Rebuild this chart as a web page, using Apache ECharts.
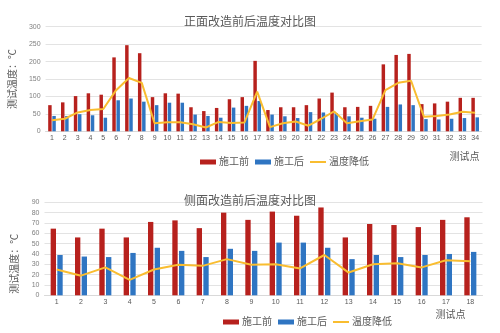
<!DOCTYPE html>
<html>
<head>
<meta charset="utf-8">
<script src="https://cdn.jsdelivr.net/npm/echarts@6/dist/echarts.min.js"></script>
<style>
  html, body { margin: 0; padding: 0; background: #fff; }
  #chart { width: 500px; height: 333px; }
</style>
</head>
<body>
<div id="chart"></div>
<script>
// 正面测试点 (front side)
const frontPoints = ['1','2','3','4','5','6','7','8','9','10','11','12','13','14','15','16','17',
  '18','19','20','21','22','23','24','25','26','27','28','29','30','31','32','33','34'];
const frontBefore = [75, 83, 101, 109, 105, 212, 247, 224, 98, 109, 108, 69, 58, 67, 92, 98, 202,
  61, 69, 69, 75, 94, 111, 69, 70, 73, 192, 219, 222, 78, 80, 85, 96, 96];
const frontAfter = [44, 44, 49, 46, 39, 89, 94, 85, 75, 82, 82, 48, 44, 39, 68, 73, 87,
  48, 43, 38, 55, 54, 52, 43, 39, 36, 70, 77, 75, 35, 34, 36, 38, 40];
const frontDrop = [32, 36, 54, 61, 64, 118, 153, 139, 23, 26, 26, 20, 11, 27, 24, 25, 114,
  12, 23, 28, 16, 36, 57, 23, 29, 34, 118, 139, 145, 42, 44, 48, 56, 53];

// 侧面测试点 (side)
const sidePoints = ['1','2','3','4','5','6','7','8','9','10','11','12','13','14','15','16','17','18'];
const sideBefore = [64.5, 56, 64.5, 56, 71, 72.5, 65, 80, 73, 81, 77, 85, 56, 69, 68, 66, 73, 75.5];
const sideAfter = [39, 37.5, 37, 41, 46, 43, 37, 45, 43, 51, 51, 46, 35, 39, 37, 39, 40, 42];
const sideDrop = [25, 19, 27, 15, 25, 29.5, 28.5, 35, 29.5, 30, 26, 39, 22, 30, 31, 27, 34, 33];

const titles = ['正面改造前后温度对比图', '侧面改造前后温度对比图'];
const seriesNames = ['施工前', '施工后', '温度降低'];
const yName = '测试温度：℃';
const xName = '测试点';

const RED = '#B7211D', BLUE = '#2F75C2', YELLOW = '#F9BD30';
const TEXT = '#595959';
const FONT = '"Liberation Sans", "Noto Sans CJK SC", sans-serif';
// thin bar used as the legend mark of the line series
const LINE_ICON = 'path://M0,0 L16,0 L16,2 L0,2 Z';

const chart = echarts.init(document.getElementById('chart'), null, { renderer: 'canvas' });

function legendFor(top, left) {
  return {
    top: top, left: left,
    itemWidth: 16, itemHeight: 5, itemGap: 6,
    data: [
      { name: seriesNames[0], icon: 'rect' },
      { name: seriesNames[1], icon: 'rect' },
      { name: seriesNames[2], icon: LINE_ICON }
    ],
    textStyle: { color: TEXT, fontSize: 10, fontFamily: FONT, padding: [0, 0, 0, -2] }
  };
}

function xAxisFor(gridIndex, cats, nameGap, namePad) {
  return {
    type: 'category', gridIndex: gridIndex, data: cats,
    axisLine: { show: true, lineStyle: { color: '#d9d9d9', width: 1 } },
    axisTick: { show: false },
    axisLabel: { color: TEXT, fontSize: 7, fontFamily: FONT, margin: 3, interval: 0 },
    name: xName, nameLocation: 'end', nameGap: nameGap,
    nameTextStyle: { color: TEXT, fontSize: 10, fontFamily: FONT, align: 'left',
      verticalAlign: 'top', padding: [namePad, 0, 0, 0] }
  };
}

function yAxisFor(gridIndex, max, interval, namePad) {
  return {
    type: 'value', gridIndex: gridIndex, min: 0, max: max, interval: interval,
    axisLine: { show: false }, axisTick: { show: false },
    splitLine: { lineStyle: { color: '#e3e3e3', width: 1 } },
    axisLabel: { color: '#7f7f7f', fontSize: 7, fontFamily: FONT, margin: 5 },
    name: yName, nameLocation: 'middle', nameGap: 24, nameRotate: 90,
    nameTextStyle: { color: TEXT, fontSize: 10, fontFamily: FONT, padding: namePad }
  };
}

function barSeries(name, data, color, axisIndex, width, gap) {
  return {
    name: name, type: 'bar', xAxisIndex: axisIndex, yAxisIndex: axisIndex,
    data: data, barWidth: width, barGap: gap,
    itemStyle: { color: color }
  };
}

function lineSeries(name, data, axisIndex) {
  return {
    name: name, type: 'line', xAxisIndex: axisIndex, yAxisIndex: axisIndex,
    data: data, symbol: 'none', smooth: false,
    lineStyle: { color: YELLOW, width: 2 }, itemStyle: { color: YELLOW }, z: 5
  };
}

chart.setOption({
  animation: false,
  backgroundColor: '#fff',
  textStyle: { fontFamily: FONT },
  title: [
    { text: titles[0], left: 'center', top: 12,
      textStyle: { color: TEXT, fontSize: 12, fontWeight: 'normal', fontFamily: FONT } },
    { text: titles[1], left: 'center', top: 191,
      textStyle: { color: TEXT, fontSize: 12, fontWeight: 'normal', fontFamily: FONT } }
  ],
  legend: [legendFor(152, 195), legendFor(312, 218)],
  grid: [
    { left: 44.5, right: 18.4, top: 26.7, height: 104.6 },
    { left: 44.5, right: 17.5, top: 202.3, height: 93 }
  ],
  xAxis: [
    xAxisFor(0, frontPoints, -32, 21),
    xAxisFor(1, sidePoints, -47, 15)
  ],
  yAxis: [
    yAxisFor(0, 300, 50, [0, 0, 0, 0]),
    yAxisFor(1, 90, 10, [0, 30, 0, 0])
  ],
  series: [
    barSeries(seriesNames[0], frontBefore, RED, 0, '27%', '20%'),
    barSeries(seriesNames[1], frontAfter, BLUE, 0, '27%', '20%'),
    lineSeries(seriesNames[2], frontDrop, 0),
    barSeries(seriesNames[0], sideBefore, RED, 1, '22%', '25%'),
    barSeries(seriesNames[1], sideAfter, BLUE, 1, '22%', '25%'),
    lineSeries(seriesNames[2], sideDrop, 1)
  ]
});
</script>
</body>
</html>
